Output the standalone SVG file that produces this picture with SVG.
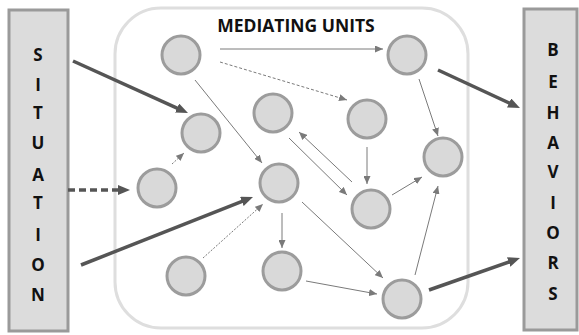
<svg xmlns="http://www.w3.org/2000/svg" width="579" height="335" viewBox="0 0 579 335">
<defs>
<style>
.side{fill:#dcdcdc;stroke:#9a9a9a;stroke-width:3}
.letter{font-family:"Open Sans","Liberation Sans",sans-serif;font-weight:700;font-size:17px;fill:#111;text-anchor:middle}
.node{fill:#d9d9d9;stroke:#9c9c9c;stroke-width:3}
.thick{stroke:#555;stroke-width:3.5;fill:none}
.thin{stroke:#7a7a7a;stroke-width:1;fill:none}
</style>
<marker id="ah" markerUnits="userSpaceOnUse" markerWidth="12" markerHeight="10" refX="3" refY="5" orient="auto">
<path d="M0,0 L12,5 L0,10 z" fill="#555"/>
</marker>
<marker id="at" markerUnits="userSpaceOnUse" markerWidth="8" markerHeight="7" refX="8" refY="3.5" orient="auto">
<path d="M0,0 L8,3.5 L0,7 z" fill="#7a7a7a"/>
</marker>
</defs>
<rect width="579" height="335" fill="#fff"/>
<g id="mediating-units">
<rect x="115" y="8" width="353" height="320" rx="46" fill="#fff" stroke="#dedede" stroke-width="3"/>
<text x="296" y="32" font-family="'Open Sans','Liberation Sans',sans-serif" font-weight="700" font-size="17.5" fill="#111" text-anchor="middle">MEDIATING UNITS</text>
</g>
<g id="situation">
<rect class="side" x="9" y="10" width="59" height="321"/>
<text class="letter" x="38" y="61">S</text>
<text class="letter" x="38" y="91">I</text>
<text class="letter" x="38" y="119">T</text>
<text class="letter" x="38" y="149">U</text>
<text class="letter" x="38" y="181">A</text>
<text class="letter" x="38" y="209">T</text>
<text class="letter" x="38" y="241">I</text>
<text class="letter" x="38" y="271">O</text>
<text class="letter" x="38" y="301">N</text>
</g>
<g id="behaviors">
<rect class="side" x="524" y="9" width="53" height="321"/>
<text class="letter" x="553" y="56">B</text>
<text class="letter" x="553" y="88">E</text>
<text class="letter" x="553" y="119">H</text>
<text class="letter" x="553" y="149">A</text>
<text class="letter" x="553" y="178">V</text>
<text class="letter" x="553" y="209">I</text>
<text class="letter" x="553" y="239">O</text>
<text class="letter" x="553" y="269">R</text>
<text class="letter" x="553" y="300">S</text>
</g>
<g id="n1"><circle class="node" cx="181" cy="55" r="19"/></g>
<g id="n2"><circle class="node" cx="407" cy="55" r="19"/></g>
<g id="n3"><circle class="node" cx="201" cy="133" r="19"/></g>
<g id="n4"><circle class="node" cx="157" cy="188" r="19"/></g>
<g id="n5"><circle class="node" cx="273" cy="113" r="19"/></g>
<g id="n6"><circle class="node" cx="367" cy="119" r="19"/></g>
<g id="n7"><circle class="node" cx="443" cy="157" r="19"/></g>
<g id="n8"><circle class="node" cx="279" cy="183" r="19"/></g>
<g id="n9"><circle class="node" cx="371" cy="209" r="19"/></g>
<g id="n10"><circle class="node" cx="186" cy="276" r="19"/></g>
<g id="n11"><circle class="node" cx="282" cy="271" r="19"/></g>
<g id="n12"><circle class="node" cx="402" cy="299" r="19"/></g>
<g id="connectors">
<line class="thick" x1="73" y1="61" x2="179.8" y2="109.3" marker-end="url(#ah)"/>
<line class="thick" x1="68" y1="190" x2="121" y2="190" stroke-dasharray="7,4" stroke-width="3" marker-end="url(#ah)"/>
<line class="thick" x1="81" y1="265" x2="244.6" y2="200.3" marker-end="url(#ah)"/>
<line class="thick" x1="438" y1="70" x2="511.8" y2="104.2" marker-end="url(#ah)"/>
<line class="thick" x1="429" y1="290" x2="511.5" y2="261" marker-end="url(#ah)"/>
<line class="thin" x1="220" y1="49" x2="383" y2="49" marker-end="url(#at)"/>
<line class="thin" x1="220" y1="62" x2="347" y2="100" stroke-dasharray="3,2" marker-end="url(#at)"/>
<line class="thin" x1="195" y1="80" x2="262" y2="163" marker-end="url(#at)"/>
<line class="thin" x1="172" y1="164" x2="184" y2="153" stroke-dasharray="2,1.5" marker-end="url(#at)"/>
<line class="thin" x1="419" y1="79" x2="438" y2="136" marker-end="url(#at)"/>
<line class="thin" x1="289" y1="138" x2="347" y2="195" marker-end="url(#at)"/>
<line class="thin" x1="352" y1="182" x2="299" y2="132" marker-end="url(#at)"/>
<line class="thin" x1="367" y1="147" x2="367" y2="184" marker-end="url(#at)"/>
<line class="thin" x1="392" y1="195" x2="422" y2="177" marker-end="url(#at)"/>
<line class="thin" x1="415" y1="275" x2="438" y2="186" marker-end="url(#at)"/>
<line class="thin" x1="282" y1="213" x2="282" y2="248" marker-end="url(#at)"/>
<line class="thin" x1="302" y1="202" x2="383" y2="278" marker-end="url(#at)"/>
<line class="thin" x1="306" y1="281" x2="377" y2="294" marker-end="url(#at)"/>
<line class="thin" x1="203" y1="258" x2="263" y2="204" stroke-dasharray="2,1.5" marker-end="url(#at)"/>
</g>
</svg>
